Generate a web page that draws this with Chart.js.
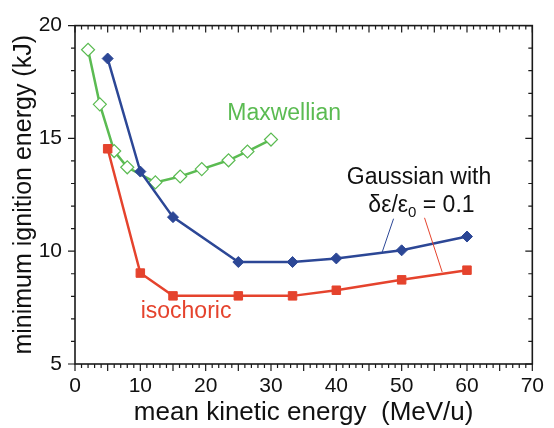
<!DOCTYPE html>
<html>
<head>
<meta charset="utf-8">
<script src="https://cdn.jsdelivr.net/npm/chart.js@4.4.1/dist/chart.umd.min.js"></script>
<style>
  html, body { margin: 0; padding: 0; background: #fff; }
  canvas { display: block; }
</style>
</head>
<body>
<canvas id="ignition" width="554" height="428"></canvas>
<script>
// beam energy (MeV/u) vs minimum ignition energy (kJ)
var maxwellEnergy = [2, 3.8, 6, 8, 12.3, 16.1, 19.4, 23.5, 26.4, 30];
var maxwellIgnition = [18.93, 16.51, 14.44, 13.72, 13.05, 13.31, 13.64, 14.03, 14.42, 14.95];

var energies = [5, 10, 15, 25, 33.3, 40, 50, 60];
var gaussIgnition = [18.54, 13.53, 11.51, 9.52, 9.52, 9.68, 10.04, 10.65];
var isochoricIgnition = [14.54, 9.03, 8.02, 8.02, 8.02, 8.27, 8.73, 9.16];

var xTicks = [0, 10, 20, 30, 40, 50, 60, 70];
var yTicks = [5, 10, 15, 20];

var GREEN = '#5bbb52';
var BLUE = '#2c4796';
var RED = '#e5432d';

function points(xs, ys) {
    return xs.map(function (x, i) { return { x: x, y: ys[i] }; });
}

Chart.defaults.font.family = '"Liberation Sans", Arial, sans-serif';
Chart.defaults.color = '#111';

// box around the plot with ticks on all four sides
var frame = {
    id: 'frame',
    afterDraw: function (chart) {
        var ctx = chart.ctx, a = chart.chartArea;
        var xs = chart.scales.x, ys = chart.scales.y;
        ctx.save();
        ctx.strokeStyle = '#1a1a1a';
        ctx.lineWidth = 1.6;
        ctx.strokeRect(a.left, a.top, a.right - a.left, a.bottom - a.top);
        ctx.lineWidth = 1.2;
        ctx.beginPath();
        for (var v = 0; v <= 70; v++) {
            var px = xs.getPixelForValue(v);
            var len = v % 5 === 0 ? 7 : 4;
            ctx.moveTo(px, a.bottom); ctx.lineTo(px, a.bottom + len);
            ctx.moveTo(px, a.top); ctx.lineTo(px, a.top + len);
        }
        for (var w = 5; w <= 20; w++) {
            var py = ys.getPixelForValue(w);
            var l = w % 5 === 0 ? 7 : 4;
            ctx.moveTo(a.left - l, py); ctx.lineTo(a.left, py);
            ctx.moveTo(a.right - l, py); ctx.lineTo(a.right, py);
        }
        ctx.stroke();
        ctx.restore();
    }
};

// curve labels and leader lines, placed in data units
var notes = {
    id: 'notes',
    afterDraw: function (chart) {
        var ctx = chart.ctx;
        var xs = chart.scales.x, ys = chart.scales.y;
        function X(v) { return xs.getPixelForValue(v); }
        function Y(v) { return ys.getPixelForValue(v); }
        ctx.save();
        ctx.textAlign = 'left';
        ctx.textBaseline = 'alphabetic';
        var font = '23px "Liberation Sans", Arial, sans-serif';
        ctx.font = font;

        ctx.fillStyle = GREEN;
        ctx.fillText('Maxwellian', X(23.3), Y(15.81));

        ctx.fillStyle = RED;
        ctx.fillText('isochoric', X(10.05), Y(7.03));

        ctx.fillStyle = '#111';
        ctx.fillText('Gaussian with', X(41.6), Y(13.0));
        var x0 = X(44.9), base = Y(11.75);
        ctx.fillText('δε/ε', x0, base);
        x0 += ctx.measureText('δε/ε').width;
        ctx.font = '15px "Liberation Sans", Arial, sans-serif';
        ctx.fillText('0', x0, base + 5);
        x0 += ctx.measureText('0').width;
        ctx.font = font;
        ctx.fillText(' = 0.1', x0, base);

        ctx.lineWidth = 1;
        ctx.strokeStyle = BLUE;
        ctx.beginPath();
        ctx.moveTo(X(48.76), Y(11.44));
        ctx.lineTo(X(47.02), Y(9.96));
        ctx.stroke();
        ctx.strokeStyle = RED;
        ctx.beginPath();
        ctx.moveTo(X(53.5), Y(11.48));
        ctx.lineTo(X(56.2), Y(9.08));
        ctx.stroke();
        ctx.restore();
    }
};

var ctx = document.getElementById('ignition').getContext('2d');
var ignitionChart = new Chart(ctx, {
    type: 'line',
    data: {
        datasets: [{
            label: 'Gaussian',
            data: points(energies, gaussIgnition),
            borderColor: BLUE,
            backgroundColor: BLUE,
            borderWidth: 2.5,
            pointStyle: 'rectRot',
            pointRadius: 5.5,
            pointBorderWidth: 1,
            tension: 0
        }, {
            label: 'isochoric',
            data: points(energies, isochoricIgnition),
            borderColor: RED,
            backgroundColor: RED,
            borderWidth: 2.5,
            pointStyle: 'rect',
            pointRadius: 6,
            pointBorderWidth: 1,
            tension: 0
        }, {
            label: 'Maxwellian',
            data: points(maxwellEnergy, maxwellIgnition),
            borderColor: GREEN,
            backgroundColor: '#fff',
            borderWidth: 2.5,
            pointStyle: 'rectRot',
            pointRadius: 6.5,
            pointBorderWidth: 1.2,
            tension: 0
        }]
    },
    options: {
        responsive: false,
        animation: false,
        layout: { padding: { top: 17, right: 19, left: 0, bottom: 0 } },
        plugins: {
            legend: { display: false },
            tooltip: { enabled: false }
        },
        scales: {
            x: {
                type: 'linear',
                min: 0,
                max: 70,
                afterFit: function (s) { s.height = 64; },
                afterBuildTicks: function (s) {
                    s.ticks = xTicks.map(function (v) { return { value: v }; });
                },
                grid: { display: false, drawTicks: false },
                border: { display: false },
                ticks: { padding: 10, font: { size: 21 }, color: '#111' },
                title: {
                    display: true,
                    text: 'mean kinetic energy  (MeV/u)',
                    font: { size: 26 },
                    color: '#111',
                    padding: { top: 0, bottom: 0 }
                }
            },
            y: {
                type: 'linear',
                min: 5,
                max: 20,
                afterFit: function (s) { s.width = 75; },
                afterBuildTicks: function (s) {
                    s.ticks = yTicks.map(function (v) { return { value: v }; });
                },
                grid: { display: false, drawTicks: false },
                border: { display: false },
                ticks: { padding: 13, font: { size: 21 }, color: '#111' },
                title: {
                    display: true,
                    text: 'minimum ignition energy (kJ)',
                    font: { size: 25 },
                    color: '#111',
                    padding: { top: 9, bottom: 0 }
                }
            }
        }
    },
    plugins: [frame, notes]
});
</script>
</body>
</html>
